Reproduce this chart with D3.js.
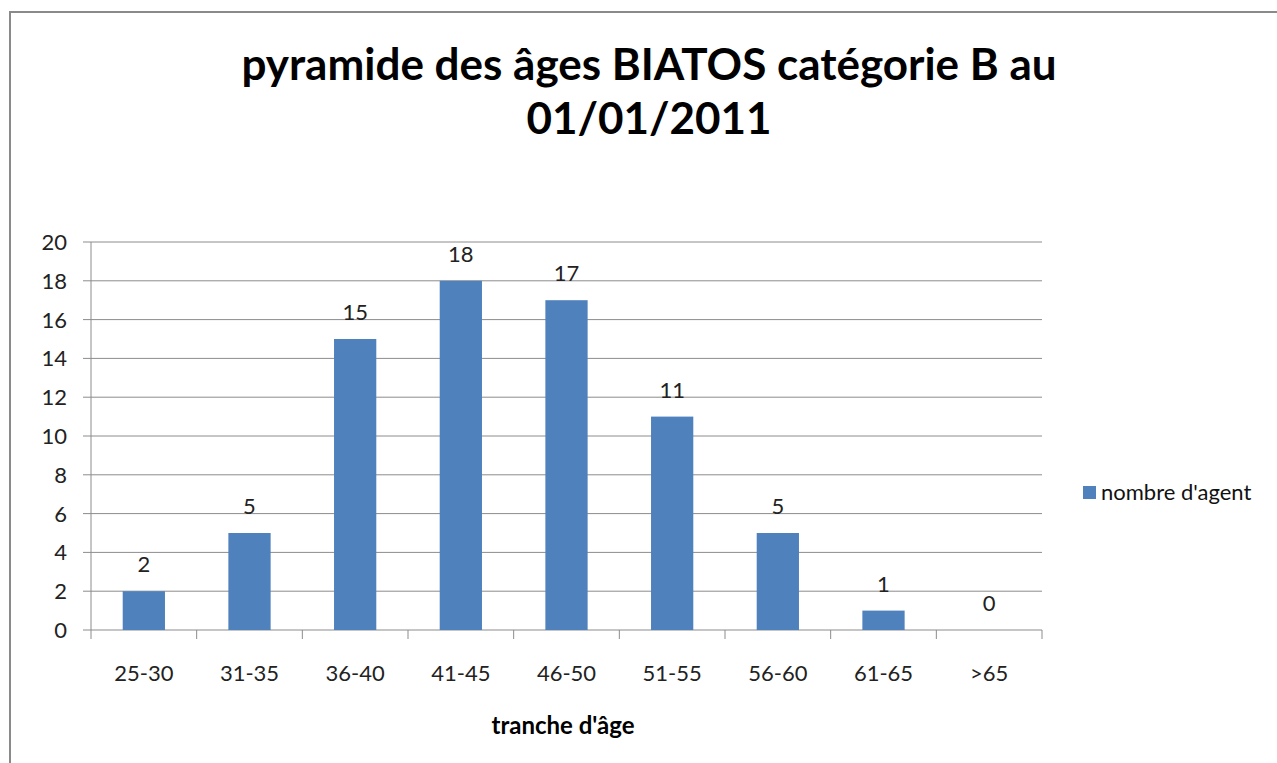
<!DOCTYPE html>
<html>
<head>
<meta charset="utf-8">
<script src="https://cdn.jsdelivr.net/npm/d3@7"></script>
<style>
  body { margin: 0; background: #fff; }
  text { font-family: Lato, "Open Sans", sans-serif; }
</style>
</head>
<body>
<div id="chart"></div>
<script>
// data
const categories = ["25-30", "31-35", "36-40", "41-45", "46-50", "51-55", "56-60", "61-65", ">65"];
const agents = [2, 5, 15, 18, 17, 11, 5, 1, 0];
const yTicks = [0, 2, 4, 6, 8, 10, 12, 14, 16, 18, 20];
const titleLines = ["pyramide des âges BIATOS catégorie B au", "01/01/2011"];
const seriesName = "nombre d'agent";
const xTitle = "tranche d'âge";

const width = 1277, height = 763;
const plot = { left: 91, right: 1042, top: 242, bottom: 630 };
const barColor = "#4F81BD", gridColor = "#8c8c8c";

let svg = d3.select("#chart").append("svg")
  .attr("width", width).attr("height", height);

// outer frame
svg.append("rect")
  .attr("x", 10).attr("y", 12)
  .attr("width", width).attr("height", height)
  .attr("fill", "none").attr("stroke", "#8a8a8a").attr("stroke-width", 2);

// title
svg.selectAll(".title").data(titleLines).enter()
  .append("text")
  .attr("class", "title")
  .attr("x", 649).attr("y", (d, i) => 80 + i * 54)
  .attr("text-anchor", "middle")
  .style("font-size", "44px").style("font-weight", "bold")
  .text(d => d);

// scales
let x = d3.scaleBand().domain(categories).range([plot.left, plot.right]);
let y = d3.scaleLinear().domain([0, 20]).range([plot.bottom, plot.top]);

// gridlines
svg.append("g").selectAll("line").data(yTicks).enter()
  .append("line")
  .attr("x1", plot.left - 8).attr("x2", plot.right)
  .attr("y1", d => y(d)).attr("y2", d => y(d))
  .attr("stroke", gridColor).attr("stroke-width", 1);

// y axis line
svg.append("line")
  .attr("x1", plot.left).attr("x2", plot.left)
  .attr("y1", plot.top).attr("y2", plot.bottom + 9)
  .attr("stroke", gridColor);

// x ticks at band edges
let edges = categories.map(c => x(c)).concat([plot.right]);
svg.append("g").selectAll("line").data(edges.slice(1)).enter()
  .append("line")
  .attr("x1", d => d).attr("x2", d => d)
  .attr("y1", plot.bottom).attr("y2", plot.bottom + 9)
  .attr("stroke", gridColor);

// y tick labels
svg.append("g").selectAll("text").data(yTicks).enter()
  .append("text")
  .attr("x", 67).attr("y", d => y(d) + 8)
  .attr("text-anchor", "end")
  .style("font-size", "22px").attr("fill", "#222")
  .text(d => d);

// x tick labels
svg.append("g").selectAll("text").data(categories).enter()
  .append("text")
  .attr("x", d => x(d) + x.bandwidth() / 2).attr("y", 681)
  .attr("text-anchor", "middle")
  .style("font-size", "22px").attr("fill", "#222")
  .text(d => d);

// bars
let barW = x.bandwidth() * 0.4;
svg.append("g").selectAll("rect").data(agents).enter()
  .append("rect")
  .attr("x", (d, i) => x(categories[i]) + (x.bandwidth() - barW) / 2)
  .attr("y", d => y(d))
  .attr("width", barW)
  .attr("height", d => plot.bottom - y(d))
  .attr("fill", barColor);

// value labels
svg.append("g").selectAll("text").data(agents).enter()
  .append("text")
  .attr("x", (d, i) => x(categories[i]) + x.bandwidth() / 2)
  .attr("y", d => y(d) - 19)
  .attr("text-anchor", "middle")
  .style("font-size", "22px").attr("fill", "#222")
  .text(d => d);

// x axis title
svg.append("text")
  .attr("x", 563).attr("y", 734)
  .attr("text-anchor", "middle")
  .style("font-size", "24px").style("font-weight", "bold")
  .text(xTitle);

// legend
svg.append("rect")
  .attr("x", 1083).attr("y", 486)
  .attr("width", 13).attr("height", 13)
  .attr("fill", barColor);
svg.append("text")
  .attr("x", 1101).attr("y", 500)
  .style("font-size", "22px").attr("fill", "#111")
  .text(seriesName);
</script>
</body>
</html>
